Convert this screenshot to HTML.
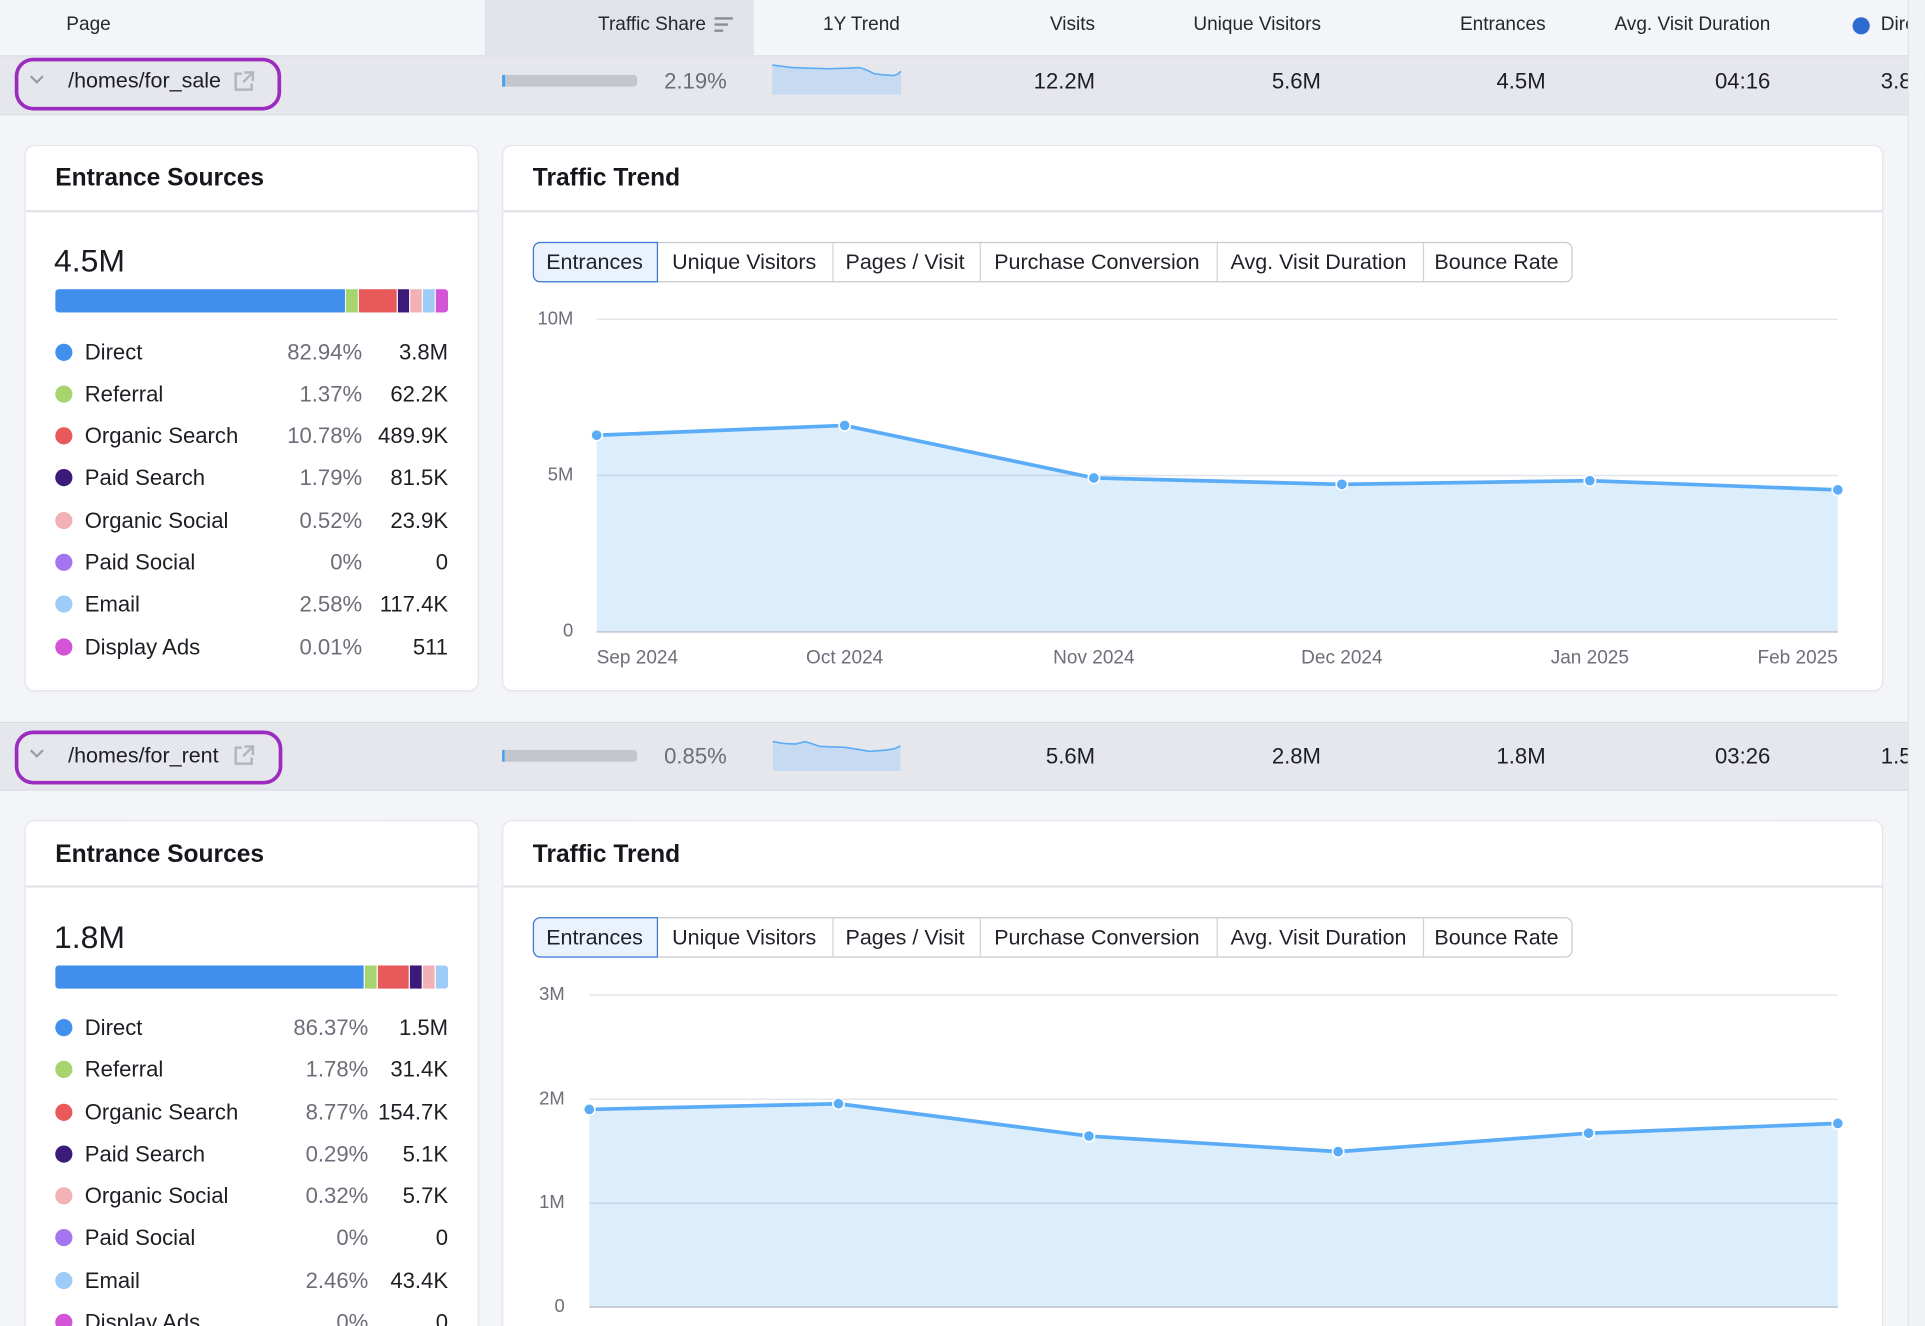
<!DOCTYPE html>
<html><head><meta charset="utf-8"><style>
html,body{margin:0;padding:0;width:1925px;height:1326px;overflow:hidden;background:#f4f5f9}
#w{position:absolute;left:0;top:0;width:1568px;height:1080px;transform:scale(1.22767,1.22776);transform-origin:0 0;overflow:hidden;background:#f4f5f9;font-family:"Liberation Sans",Arial,sans-serif;color:#1d1e24}
.a{position:absolute}
.t{position:absolute;white-space:nowrap;line-height:1;transform:translateY(-50%)}
.r{transform:translate(-100%,-50%)}
.c{transform:translate(-50%,-50%)}
.h{font-size:15.5px;color:#25272e}
.v{font-size:18px;color:#1d1e24}
.g{color:#6b6e78}
.card{position:absolute;background:#fff;border:1px solid #e4e6eb;border-radius:8px;box-sizing:border-box;box-shadow:0 1px 2px rgba(0,0,0,0.03)}
.card.open{border-bottom:none;border-radius:8px 8px 0 0}
.div{position:absolute;left:0;right:0;top:52px;height:1.5px;background:#e5e6eb}
.ttl{font-size:20px;font-weight:bold;color:#16171c}
.dot{position:absolute;width:14px;height:14px;border-radius:50%}
.lg{font-size:18px}
.tabs{position:absolute;height:33px;border:1px solid #c6c9d0;border-radius:6px;box-sizing:border-box;background:#fff}
.sep{position:absolute;top:0;bottom:0;width:1px;background:#d0d3d9}
.sel{position:absolute;left:-1px;top:-1px;height:33px;box-sizing:border-box;border:1px solid #3b78d4;border-radius:6px 0 0 6px;background:#eaf2fe}
.tb{font-size:17.5px;color:#1f2128}
.pr{position:absolute;border:3.3px solid #9b2cbf;border-radius:15px;box-sizing:border-box}
</style></head><body>
<div id="w">

<!-- header -->
<div class="a" style="left:395px;top:0;width:219px;height:45px;background:#e2e3ea"></div>
<div class="a" style="left:0;top:45px;width:1568px;height:1px;background:#dcdde3"></div>
<div class="t h" style="left:54px;top:20px">Page</div>
<div class="t h r" style="left:575px;top:20px">Traffic Share</div>
<svg class="a" style="left:580px;top:12px" width="20" height="18"><g stroke="#8a8d96" stroke-width="2"><line x1="2" y1="3" x2="17" y2="3"/><line x1="2" y1="8" x2="13" y2="8"/><line x1="2" y1="13" x2="9" y2="13"/></g></svg>
<div class="t h r" style="left:733px;top:20px">1Y Trend</div>
<div class="t h r" style="left:892px;top:20px">Visits</div>
<div class="t h r" style="left:1076px;top:20px">Unique Visitors</div>
<div class="t h r" style="left:1259px;top:20px">Entrances</div>
<div class="t h r" style="left:1442px;top:20px">Avg. Visit Duration</div>
<div class="a" style="left:1509px;top:14px;width:14px;height:14px;border-radius:50%;background:#2e6bd0"></div>
<div class="t h" style="left:1532px;top:20px">Direct</div>

<!-- row 1 -->
<div class="a" style="left:0;top:46px;width:1568px;height:47px;background:#e6e7ec"></div>
<div class="a" style="left:0;top:93px;width:1568px;height:1px;background:#d9dbe1"></div>
<div class="pr" style="left:11.5px;top:47px;width:217px;height:43px"></div>
<svg class="a" style="left:22px;top:59px" width="16" height="12"><polyline points="3,3 8,8 13,3" fill="none" stroke="#9a9ca5" stroke-width="1.8"/></svg>
<div class="t" style="left:55.5px;top:65.5px;font-size:17.5px;color:#1d1e24">/homes/for_sale</div>
<svg class="a" style="left:189px;top:57px" width="20" height="18"><g fill="none" stroke="#b3b5bc" stroke-width="2"><path d="M8 3H3v13h13v-5"/><path d="M10 2h7v7"/><path d="M17 2L9 10"/></g></svg>
<div class="t v g" style="left:592px;top:65.5px;transform:translate(-100%,-50%)">2.19%</div>
<div class="t v r" style="left:892px;top:65.5px">12.2M</div>
<div class="t v r" style="left:1076px;top:65.5px">5.6M</div>
<div class="t v r" style="left:1259px;top:65.5px">4.5M</div>
<div class="t v r" style="left:1442px;top:65.5px">04:16</div>
<div class="t v" style="left:1532px;top:65.5px">3.8M</div>

<!-- row 2 -->
<div class="a" style="left:0;top:588px;width:1568px;height:1px;background:#d9dbe1"></div>
<div class="a" style="left:0;top:589px;width:1568px;height:54px;background:#e6e7ec"></div>
<div class="a" style="left:0;top:643px;width:1568px;height:1px;background:#d9dbe1"></div>
<div class="pr" style="left:12px;top:595px;width:217.5px;height:44px"></div>
<svg class="a" style="left:22px;top:608px" width="16" height="12"><polyline points="3,3 8,8 13,3" fill="none" stroke="#9a9ca5" stroke-width="1.8"/></svg>
<div class="t" style="left:55.5px;top:615.5px;font-size:17.5px;color:#1d1e24">/homes/for_rent</div>
<svg class="a" style="left:189px;top:606px" width="20" height="18"><g fill="none" stroke="#b3b5bc" stroke-width="2"><path d="M8 3H3v13h13v-5"/><path d="M10 2h7v7"/><path d="M17 2L9 10"/></g></svg>
<div class="t v g" style="left:592px;top:615.5px;transform:translate(-100%,-50%)">0.85%</div>
<div class="t v r" style="left:892px;top:615.5px">5.6M</div>
<div class="t v r" style="left:1076px;top:615.5px">2.8M</div>
<div class="t v r" style="left:1259px;top:615.5px">1.8M</div>
<div class="t v r" style="left:1442px;top:615.5px">03:26</div>
<div class="t v" style="left:1532px;top:615.5px">1.5M</div>

<!-- cards -->
<div class="card" style="left:20px;top:118px;width:370px;height:445px"><div class="div"></div></div>
<div class="card" style="left:409px;top:118px;width:1125px;height:445px"><div class="div"></div></div>
<div class="card open" style="left:20px;top:668px;width:370px;height:412px"><div class="div"></div></div>
<div class="card open" style="left:409px;top:668px;width:1125px;height:412px"><div class="div"></div></div>

<div class="t ttl" style="left:45px;top:145px">Entrance Sources</div>
<div class="t ttl" style="left:434px;top:145px">Traffic Trend</div>
<div class="t ttl" style="left:45px;top:695.5px">Entrance Sources</div>
<div class="t ttl" style="left:434px;top:695.5px">Traffic Trend</div>

<div class="t" style="left:44px;top:212px;font-size:26px;color:#1a1b21">4.5M</div>
<div class="t" style="left:44px;top:762.5px;font-size:26px;color:#1a1b21">1.8M</div>

<!-- legend 1 -->
<div class="dot" style="left:45px;top:279.5px;background:#4190ec"></div><div class="t lg" style="left:69px;top:286.5px">Direct</div><div class="t lg g r" style="left:295px;top:286.5px">82.94%</div><div class="t lg r" style="left:365px;top:286.5px">3.8M</div>
<div class="dot" style="left:45px;top:313.8px;background:#a6d46e"></div><div class="t lg" style="left:69px;top:320.8px">Referral</div><div class="t lg g r" style="left:295px;top:320.8px">1.37%</div><div class="t lg r" style="left:365px;top:320.8px">62.2K</div>
<div class="dot" style="left:45px;top:348.1px;background:#e85a5a"></div><div class="t lg" style="left:69px;top:355.1px">Organic Search</div><div class="t lg g r" style="left:295px;top:355.1px">10.78%</div><div class="t lg r" style="left:365px;top:355.1px">489.9K</div>
<div class="dot" style="left:45px;top:382.4px;background:#3c1a7a"></div><div class="t lg" style="left:69px;top:389.4px">Paid Search</div><div class="t lg g r" style="left:295px;top:389.4px">1.79%</div><div class="t lg r" style="left:365px;top:389.4px">81.5K</div>
<div class="dot" style="left:45px;top:416.7px;background:#f2b1b5"></div><div class="t lg" style="left:69px;top:423.7px">Organic Social</div><div class="t lg g r" style="left:295px;top:423.7px">0.52%</div><div class="t lg r" style="left:365px;top:423.7px">23.9K</div>
<div class="dot" style="left:45px;top:450.9px;background:#a774f0"></div><div class="t lg" style="left:69px;top:457.9px">Paid Social</div><div class="t lg g r" style="left:295px;top:457.9px">0%</div><div class="t lg r" style="left:365px;top:457.9px">0</div>
<div class="dot" style="left:45px;top:485.2px;background:#9fcbf8"></div><div class="t lg" style="left:69px;top:492.2px">Email</div><div class="t lg g r" style="left:295px;top:492.2px">2.58%</div><div class="t lg r" style="left:365px;top:492.2px">117.4K</div>
<div class="dot" style="left:45px;top:519.5px;background:#d354d6"></div><div class="t lg" style="left:69px;top:526.5px">Display Ads</div><div class="t lg g r" style="left:295px;top:526.5px">0.01%</div><div class="t lg r" style="left:365px;top:526.5px">511</div>

<!-- legend 2 -->
<div class="dot" style="left:45px;top:830px;background:#4190ec"></div><div class="t lg" style="left:69px;top:837px">Direct</div><div class="t lg g r" style="left:300px;top:837px">86.37%</div><div class="t lg r" style="left:365px;top:837px">1.5M</div>
<div class="dot" style="left:45px;top:864.3px;background:#a6d46e"></div><div class="t lg" style="left:69px;top:871.3px">Referral</div><div class="t lg g r" style="left:300px;top:871.3px">1.78%</div><div class="t lg r" style="left:365px;top:871.3px">31.4K</div>
<div class="dot" style="left:45px;top:898.6px;background:#e85a5a"></div><div class="t lg" style="left:69px;top:905.6px">Organic Search</div><div class="t lg g r" style="left:300px;top:905.6px">8.77%</div><div class="t lg r" style="left:365px;top:905.6px">154.7K</div>
<div class="dot" style="left:45px;top:932.9px;background:#3c1a7a"></div><div class="t lg" style="left:69px;top:939.9px">Paid Search</div><div class="t lg g r" style="left:300px;top:939.9px">0.29%</div><div class="t lg r" style="left:365px;top:939.9px">5.1K</div>
<div class="dot" style="left:45px;top:967.2px;background:#f2b1b5"></div><div class="t lg" style="left:69px;top:974.2px">Organic Social</div><div class="t lg g r" style="left:300px;top:974.2px">0.32%</div><div class="t lg r" style="left:365px;top:974.2px">5.7K</div>
<div class="dot" style="left:45px;top:1001.4px;background:#a774f0"></div><div class="t lg" style="left:69px;top:1008.4px">Paid Social</div><div class="t lg g r" style="left:300px;top:1008.4px">0%</div><div class="t lg r" style="left:365px;top:1008.4px">0</div>
<div class="dot" style="left:45px;top:1035.7px;background:#9fcbf8"></div><div class="t lg" style="left:69px;top:1042.7px">Email</div><div class="t lg g r" style="left:300px;top:1042.7px">2.46%</div><div class="t lg r" style="left:365px;top:1042.7px">43.4K</div>
<div class="dot" style="left:45px;top:1070px;background:#d354d6"></div><div class="t lg" style="left:69px;top:1077px">Display Ads</div><div class="t lg g r" style="left:300px;top:1077px">0%</div><div class="t lg r" style="left:365px;top:1077px">0</div>

<!-- tabs 1 -->
<div class="tabs" style="left:433.5px;top:197px;width:847px">
  <div class="sel" style="width:102.5px"></div>
  <div class="sep" style="left:243px"></div><div class="sep" style="left:363px"></div><div class="sep" style="left:556px"></div><div class="sep" style="left:724px"></div>
</div>
<div class="t tb c" style="left:484.3px;top:213.5px">Entrances</div>
<div class="t tb c" style="left:606.2px;top:213.5px">Unique Visitors</div>
<div class="t tb c" style="left:737.2px;top:213.5px">Pages / Visit</div>
<div class="t tb c" style="left:893.5px;top:213.5px">Purchase Conversion</div>
<div class="t tb c" style="left:1074px;top:213.5px">Avg. Visit Duration</div>
<div class="t tb c" style="left:1219px;top:213.5px">Bounce Rate</div>

<!-- tabs 2 -->
<div class="tabs" style="left:433.5px;top:747px;width:847px">
  <div class="sel" style="width:102.5px"></div>
  <div class="sep" style="left:243px"></div><div class="sep" style="left:363px"></div><div class="sep" style="left:556px"></div><div class="sep" style="left:724px"></div>
</div>
<div class="t tb c" style="left:484.3px;top:763.5px">Entrances</div>
<div class="t tb c" style="left:606.2px;top:763.5px">Unique Visitors</div>
<div class="t tb c" style="left:737.2px;top:763.5px">Pages / Visit</div>
<div class="t tb c" style="left:893.5px;top:763.5px">Purchase Conversion</div>
<div class="t tb c" style="left:1074px;top:763.5px">Avg. Visit Duration</div>
<div class="t tb c" style="left:1219px;top:763.5px">Bounce Rate</div>

<!-- graphics -->
<svg class="a" style="left:0;top:0" width="1568" height="1080" viewBox="0 0 1568 1080">
  <rect x="409" y="61" width="110" height="9.6" rx="3" fill="#c4c6cd"/>
  <rect x="409" y="61" width="2.4" height="9.6" fill="#4aa0f0"/>
  <rect x="409" y="610.8" width="110" height="9.6" rx="3" fill="#c4c6cd"/>
  <rect x="409" y="610.8" width="2" height="9.6" fill="#4aa0f0"/>
  <polygon points="629,53 645,55 660,55.5 675,56 690,55.5 700,55 706,57 712,60 720,61 728,61.5 731,60.5 734,58 734,77 629,77" fill="#c6dbf2"/>
  <polyline points="629,53 645,55 660,55.5 675,56 690,55.5 700,55 706,57 712,60 720,61 728,61.5 731,60.5 734,58" fill="none" stroke="#5aacf6" stroke-width="1.3"/>
  <polygon points="629.4,604 638,605.5 648,606 656,604 662,606 668,608 688,608.7 700,610.5 708,612 714,611.5 721,611 728,610 733.5,607.5 733.5,628 629.4,628" fill="#c6dbf2"/>
  <polyline points="629.4,604 638,605.5 648,606 656,604 662,606 668,608 688,608.7 700,610.5 708,612 714,611.5 721,611 728,610 733.5,607.5" fill="none" stroke="#5aacf6" stroke-width="1.3"/>

  <clipPath id="cb1"><rect x="45" y="235.5" width="320" height="19" rx="3"/></clipPath>
  <g clip-path="url(#cb1)">
    <rect x="45" y="235.5" width="236" height="19" fill="#418fec"/>
    <rect x="281.8" y="235.5" width="9.6" height="19" fill="#a6d46e"/>
    <rect x="292.3" y="235.5" width="30.8" height="19" fill="#e85a5a"/>
    <rect x="324.1" y="235.5" width="9.1" height="19" fill="#3c1a7a"/>
    <rect x="334.2" y="235.5" width="9.3" height="19" fill="#f2b1b5"/>
    <rect x="344.5" y="235.5" width="9.5" height="19" fill="#9fcbf8"/>
    <rect x="355" y="235.5" width="10" height="19" fill="#d354d6"/>
  </g>
  <clipPath id="cb2"><rect x="45" y="786.3" width="320" height="19" rx="3"/></clipPath>
  <g clip-path="url(#cb2)">
    <rect x="45" y="786.3" width="251.2" height="19" fill="#418fec"/>
    <rect x="297.2" y="786.3" width="9.6" height="19" fill="#a6d46e"/>
    <rect x="307.8" y="786.3" width="25.1" height="19" fill="#e85a5a"/>
    <rect x="333.9" y="786.3" width="9.6" height="19" fill="#3c1a7a"/>
    <rect x="344.5" y="786.3" width="9.5" height="19" fill="#f2b1b5"/>
    <rect x="355" y="786.3" width="10" height="19" fill="#9fcbf8"/>
  </g>

  <polygon points="486,354.5 688,346.5 891,389.3 1093,394.5 1295,391.5 1497,399 1497,514.5 486,514.5" fill="#dcedfc"/>
  <g stroke="rgba(110,125,160,0.2)" stroke-width="1.2">
    <line x1="486" y1="260" x2="1497" y2="260"/>
    <line x1="486" y1="387.3" x2="1497" y2="387.3"/>
  </g>
  <line x1="486" y1="514.6" x2="1497" y2="514.6" stroke="#c5ccd8" stroke-width="1.6"/>
  <polyline points="486,354.5 688,346.5 891,389.3 1093,394.5 1295,391.5 1497,399" fill="none" stroke="#5aacf6" stroke-width="3" stroke-linejoin="round"/>
  <g fill="#5aacf6" stroke="#fff" stroke-width="1.3">
    <circle cx="486" cy="354.5" r="4.6"/><circle cx="688" cy="346.5" r="4.6"/><circle cx="891" cy="389.3" r="4.6"/>
    <circle cx="1093" cy="394.5" r="4.6"/><circle cx="1295" cy="391.5" r="4.6"/><circle cx="1497" cy="399" r="4.6"/>
  </g>
  <g font-family="Liberation Sans, Arial, sans-serif" font-size="15" fill="#6c6e79">
    <text x="467" y="264.5" text-anchor="end">10M</text>
    <text x="467" y="391.5" text-anchor="end">5M</text>
    <text x="467" y="518.5" text-anchor="end">0</text>
    <text x="486" y="540.5" text-anchor="start" font-size="15.5">Sep 2024</text>
    <text x="688" y="540.5" text-anchor="middle" font-size="15.5">Oct 2024</text>
    <text x="891" y="540.5" text-anchor="middle" font-size="15.5">Nov 2024</text>
    <text x="1093" y="540.5" text-anchor="middle" font-size="15.5">Dec 2024</text>
    <text x="1295" y="540.5" text-anchor="middle" font-size="15.5">Jan 2025</text>
    <text x="1497" y="540.5" text-anchor="end" font-size="15.5">Feb 2025</text>
  </g>

  <polygon points="480,903.6 683,899 887,925.3 1090,938 1294,923 1497,915 1497,1064.5 480,1064.5" fill="#dcedfc"/>
  <g stroke="rgba(110,125,160,0.2)" stroke-width="1.2">
    <line x1="480" y1="810.5" x2="1497" y2="810.5"/>
    <line x1="480" y1="895.3" x2="1497" y2="895.3"/>
    <line x1="480" y1="980" x2="1497" y2="980"/>
  </g>
  <line x1="480" y1="1064.5" x2="1497" y2="1064.5" stroke="#c5ccd8" stroke-width="1.6"/>
  <polyline points="480,903.6 683,899 887,925.3 1090,938 1294,923 1497,915" fill="none" stroke="#5aacf6" stroke-width="3" stroke-linejoin="round"/>
  <g fill="#5aacf6" stroke="#fff" stroke-width="1.3">
    <circle cx="480" cy="903.6" r="4.6"/><circle cx="683" cy="899" r="4.6"/><circle cx="887" cy="925.3" r="4.6"/>
    <circle cx="1090" cy="938" r="4.6"/><circle cx="1294" cy="923" r="4.6"/><circle cx="1497" cy="915" r="4.6"/>
  </g>
  <g font-family="Liberation Sans, Arial, sans-serif" font-size="15" fill="#6c6e79">
    <text x="460" y="814.5" text-anchor="end">3M</text>
    <text x="460" y="899.5" text-anchor="end">2M</text>
    <text x="460" y="984" text-anchor="end">1M</text>
    <text x="460" y="1068.5" text-anchor="end">0</text>
  </g>
</svg>

<div class="a" style="left:1554px;top:0;width:14px;height:1080px;background:#f1f2f6;border-left:1px solid #e3e4e9;box-sizing:border-box"></div>
</div>
</body></html>
